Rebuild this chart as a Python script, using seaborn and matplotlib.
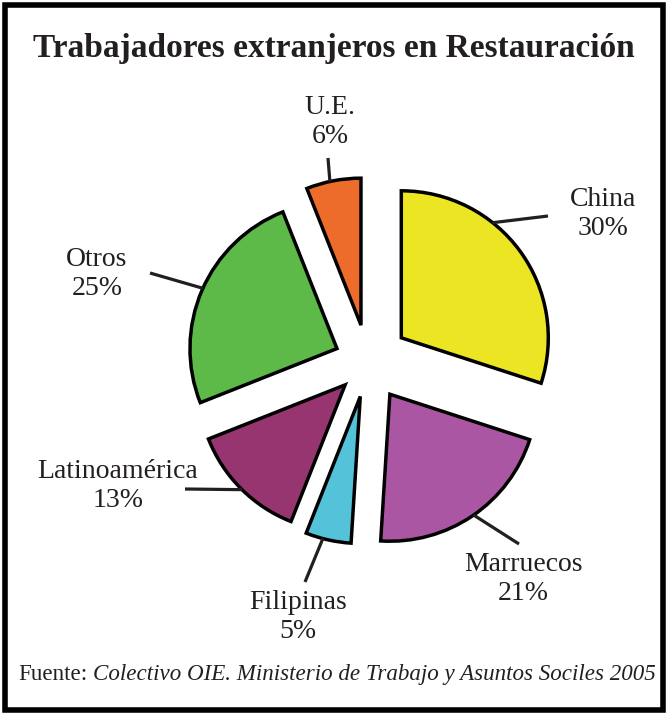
import numpy as np
import matplotlib
matplotlib.use("Agg")
import matplotlib.pyplot as plt
from matplotlib.patches import Rectangle
import seaborn as sns

# data
categories = ["China", "Marruecos", "Filipinas", "Latinoamérica", "Otros", "U.E."]
shares = [30, 21, 5, 13, 25, 6]
colors = ["#EBE524", "#AB56A3", "#54C3D9", "#963570", "#5DB948", "#EE6C2B"]

title = "Trabajadores extranjeros en Restauración"
source_label = "Fuente:"
source_text = "Colectivo OIE. Ministerio de Trabajo y Asuntos Sociles 2005"

# layout, in pixels of the 668x715 picture
W, H = 668, 715
CX, CY, R = 368, 362, 147
explode = [0.28, 0.265, 0.24, 0.22, 0.23, 0.255]
leader_frac = [0.356, 0.493, 0.62, 0.49, 0.509, 0.435]
leader_end = [(548, 216), (519, 544), (305, 582), (185, 489), (150, 273), (328, 158)]
label_pos = [(603, 214), (523, 579), (298, 617), (118, 486), (97, 274), (330, 122)]
INK = "#231F20"

sns.set_theme(style="white")
plt.rcParams["font.family"] = ["Liberation Serif", "DejaVu Serif"]


def to_data(px, py):
    return (px - CX) / R, (CY - py) / R


fig = plt.figure(figsize=(W / 100, H / 100), dpi=100)
fig.patch.set_facecolor("white")
ax = fig.add_axes([0, 0, 1, 1])

wedges, _ = ax.pie(shares, colors=colors, explode=explode, startangle=90,
                   counterclock=False, radius=1,
                   wedgeprops=dict(edgecolor="black", linewidth=2.5, joinstyle="miter"))
ax.set_xlim(-CX / R, (W - CX) / R)
ax.set_ylim((CY - H) / R, CY / R)
ax.set_aspect("equal")
ax.axis("off")

# leader lines + labels
for w, name, pct, f, end, pos in zip(wedges, categories, shares, leader_frac, leader_end, label_pos):
    ang = np.deg2rad(w.theta2 - f * (w.theta2 - w.theta1))
    x0 = w.center[0] + w.r * np.cos(ang)
    y0 = w.center[1] + w.r * np.sin(ang)
    ex, ey = to_data(*end)
    ax.plot([x0, ex], [y0, ey], color=INK, lw=2.3, solid_capstyle="butt")
    ax.text(*to_data(*pos), f"{name}\n{pct}%", ha="center", va="center",
            fontsize=20, linespacing=1.2, color=INK)

fig.text(0.5, 1 - 57 / H, title, ha="center", va="baseline",
         fontsize=24, fontweight="bold", color=INK)

t1 = fig.text(18 / W, 1 - 680 / H, source_label, ha="left", va="baseline",
              fontsize=16.6, color=INK)
ax.annotate(source_text, xy=(1, 0), xycoords=t1, xytext=(4, 0),
            textcoords="offset points", ha="left", va="bottom",
            fontsize=16.6, fontstyle="italic", color=INK, annotation_clip=False)

fig.add_artist(Rectangle((5 / W, 5 / H), (W - 10) / W, (H - 10) / H,
                         transform=fig.transFigure, fill=False, lw=4, ec="black"))

fig.savefig("out.png", dpi=100)
